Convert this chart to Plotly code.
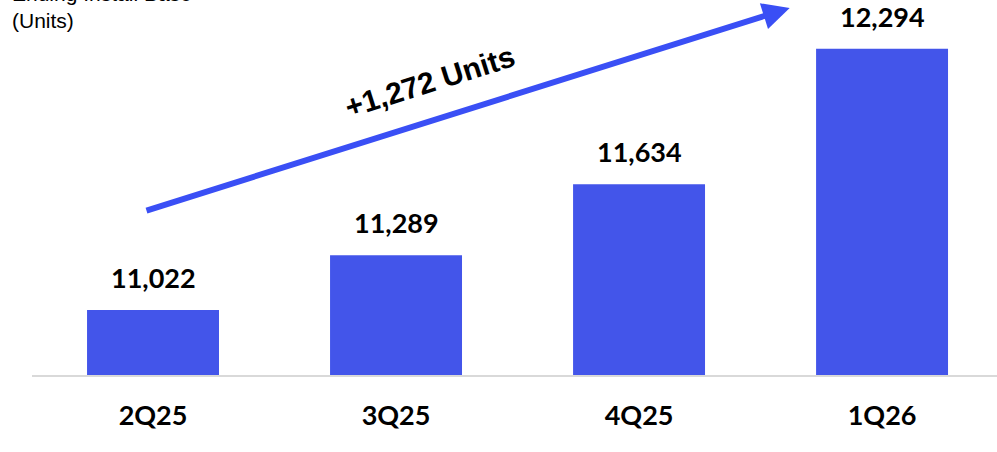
import plotly.graph_objects as go

categories = ["2Q25", "3Q25", "4Q25", "1Q26"]
values = [11022, 11289, 11634, 12294]
title_lines = ["Ending Install Base", "(Units)"]

BAR_COLOR = "#4355EA"
ARROW_COLOR = "#3A4FF5"
VAL_FONT = dict(family="Lato", size=27, color="#000000")

fig = go.Figure()
fig.add_trace(go.Bar(
    x=list(range(len(categories))),
    y=values,
    marker=dict(color=BAR_COLOR, line=dict(width=0)),
    width=0.543,
    hoverinfo="skip",
))

annotations = []
for i, v in enumerate(values):
    annotations.append(dict(
        x=i, y=v, xref="x", yref="y", text=f"<b>{v:,}</b>",
        showarrow=False, yanchor="bottom", yshift=14, font=VAL_FONT,
    ))

# growth arrow
annotations.append(dict(
    x=2.62, y=12493, ax=-0.033, ay=11504, xref="x", yref="y", axref="x", ayref="y",
    text="", showarrow=True, arrowhead=2, arrowsize=0.9, arrowwidth=6,
    arrowcolor=ARROW_COLOR, standoff=0, startstandoff=0,
))
growth = values[-1] - values[0]
annotations.append(dict(
    x=1.14, y=12133, xref="x", yref="y", text=f"<b>+{growth:,} Units</b>",
    showarrow=False, textangle=-17.5,
    font=dict(family="Liberation Sans, Arial", size=30, color="#000000"),
))
annotations.append(dict(
    x=(10 - 32) / 965, y=(375 + 20) / 375, xref="paper", yref="paper",
    text="<br>".join(title_lines),
    showarrow=False, xanchor="left", yanchor="top", align="left",
    font=dict(family="Liberation Sans, Arial", size=21, color="#000000"),
))

fig.update_layout(
    width=997, height=452,
    margin=dict(l=32, r=0, t=0, b=77),
    paper_bgcolor="white", plot_bgcolor="white",
    showlegend=False,
    annotations=annotations,
    xaxis=dict(
        tickmode="array", tickvals=list(range(len(categories))), ticktext=[f"<b>{c}</b>" for c in categories],
        range=[-0.498, 3.473], showgrid=False, zeroline=False,
        showline=True, linecolor="#D9D9D9", linewidth=2,
        ticks="outside", ticklen=16, tickcolor="rgba(0,0,0,0)",
        tickfont=VAL_FONT, fixedrange=True,
    ),
    yaxis=dict(range=[10705, 12532], visible=False, showgrid=False, zeroline=False, fixedrange=True),
)

fig.write_html("out.html", config={"displayModeBar": False},
               post_script="document.body.style.margin='0';")
